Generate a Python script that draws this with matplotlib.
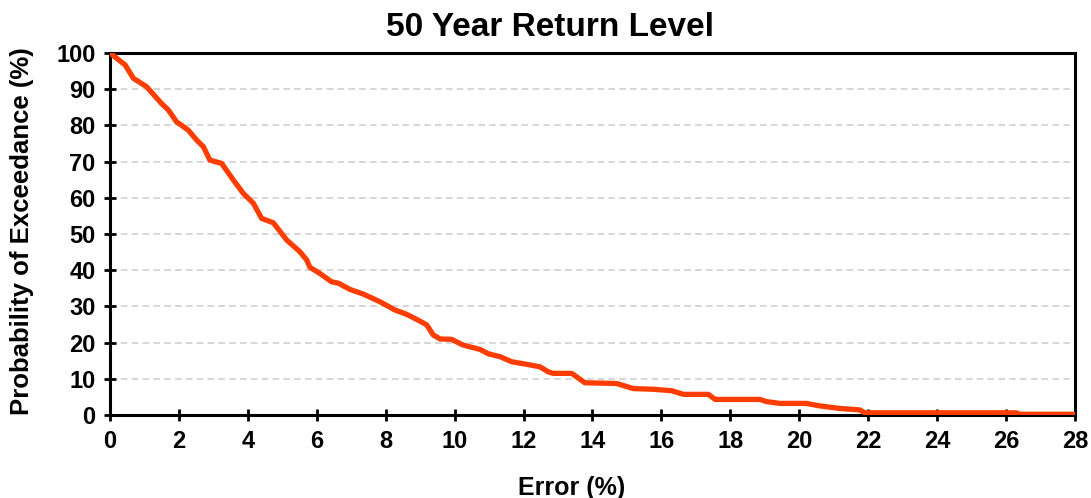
import matplotlib
matplotlib.use('Agg')
import matplotlib.pyplot as plt

# curve (error %, probability of exceedance %)
error_pct = [0.0, 0.44, 0.68, 1.06, 1.5, 1.69, 1.93, 2.27, 2.51, 2.71, 2.9, 3.24, 3.58,
             3.87, 4.16, 4.4, 4.74, 5.13, 5.51, 5.71, 5.8, 6.09, 6.43, 6.63, 6.96, 7.35,
             7.83, 8.27, 8.61, 8.9, 9.19, 9.38, 9.58, 9.91, 10.25, 10.74, 10.98, 11.32,
             11.66, 12.09, 12.48, 12.72, 12.86, 13.4, 13.78, 14.7, 15.18, 15.77, 16.3,
             16.64, 17.36, 17.56, 18.86, 19.05, 19.44, 20.2, 20.6, 21.18, 21.76, 21.9,
             26.3, 26.4, 28.0]
exceed_pct = [100, 96.7, 93, 90.7, 86, 84.3, 81, 78.7, 76, 74.1, 70.4, 69.5, 64.9,
              61.2, 58.5, 54.3, 53.1, 48.3, 45.1, 42.8, 40.8, 39.1, 36.8, 36.4, 34.7, 33.4,
              31.3, 29, 27.8, 26.4, 24.9, 22.1, 21, 20.9, 19.3, 18.1, 16.9, 16.1,
              14.7, 14, 13.3, 11.9, 11.5, 11.5, 8.9, 8.7, 7.3, 7.1, 6.7,
              5.7, 5.7, 4.3, 4.3, 3.7, 3.2, 3.2, 2.5, 1.8, 1.4, 0.6,
              0.6, 0.2, 0.2]

x_ticks = list(range(0, 29, 2))
y_ticks = list(range(0, 101, 10))

plt.rcParams['font.family'] = ['Liberation Sans', 'DejaVu Sans']
plt.rcParams['font.weight'] = 'bold'

fig = plt.figure(figsize=(10.91, 4.98), dpi=100)
ax = fig.add_axes([0.1008, 0.1667, 0.8845, 0.7269])

for y in y_ticks[1:-1]:
    ax.axhline(y, color='#cfcfcf', linestyle=(0, (4, 2.5)), linewidth=1.2, zorder=1)

ax.plot(error_pct, exceed_pct, color='#ff3d00', linewidth=3.8, solid_joinstyle='round', zorder=3)

ax.set_xlim(0, 28)
ax.set_ylim(0, 100)
ax.set_xticks(x_ticks)
ax.set_yticks(y_ticks)
ax.tick_params(direction='inout', length=9, width=2, labelsize=17, pad=6)
for s in ax.spines.values():
    s.set_linewidth(2.2)

ax.set_xlabel('Error (%)', fontsize=18, fontweight='bold')
ax.xaxis.set_label_coords(0.478, -0.168)
ax.set_ylabel('Probability of Exceedance (%)', fontsize=18.5, fontweight='bold')
ax.yaxis.set_label_coords(-0.079, 0.508)
fig.suptitle('50 Year Return Level', fontsize=24, fontweight='bold', x=0.504, y=0.945, va='center')

fig.savefig('out.png', dpi=100)
